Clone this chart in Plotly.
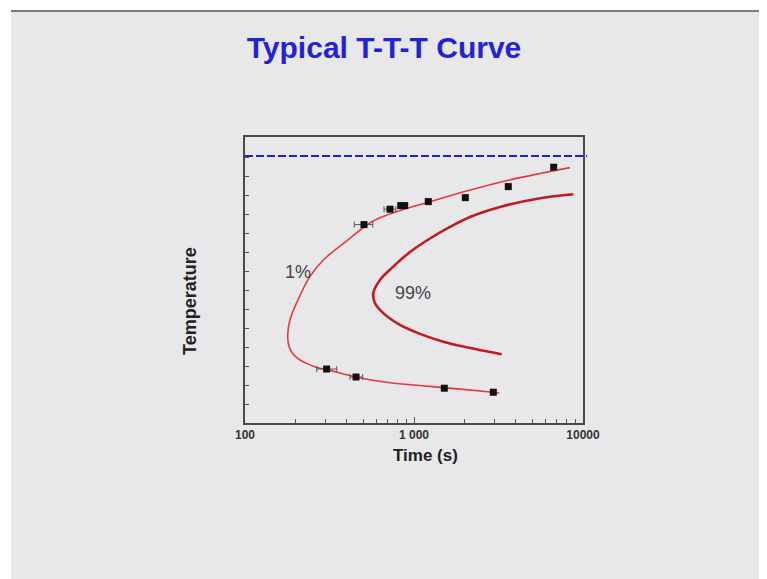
import math
import plotly.graph_objects as go

# ---- data ----
curve1_x = [3197, 2946, 1491, 1085, 721, 458, 304, 266, 230, 205, 190, 182, 179, 181, 186, 202, 242, 291, 400, 542, 658, 865, 1215, 2050, 3614, 5566, 8375]
curve1_y = [0.63, 0.67, 0.91, 1.02, 1.17, 1.46, 1.86, 1.97, 2.20, 2.45, 2.75, 3.10, 3.53, 4.11, 4.58, 5.37, 6.75, 7.63, 8.63, 9.55, 9.92, 10.29, 10.67, 11.26, 11.82, 12.18, 12.49]

curve99_x = [3304, 2050, 1491, 1085, 826, 658, 588, 574, 629, 754, 947, 1244, 1633, 2144, 3228, 5566, 8763]
curve99_y = [2.67, 3.04, 3.33, 3.74, 4.21, 4.83, 5.35, 5.88, 6.58, 7.28, 8.05, 8.76, 9.37, 9.89, 10.42, 10.88, 11.09]

pts_x = [6708, 3614, 2012, 1215, 834, 881, 721, 506, 304, 454, 1511, 2946]
pts_y = [12.51, 11.49, 10.91, 10.70, 10.49, 10.49, 10.30, 9.49, 1.89, 1.47, 0.88, 0.67]
err_plus = [0, 0, 0, 0, 0, 0, 59, 64, 45, 43, 0, 0]
err_minus = [0, 0, 0, 0, 0, 0, 56, 63, 38, 36, 0, 0]

melt_temp = 13.1
x_major = [100, 1000, 10000]
x_major_text = ["100", "1 000", "10000"]
x_minor = [200, 300, 400, 500, 600, 700, 800, 900, 2000, 3000, 4000, 5000, 6000, 7000, 8000, 9000]
y_ticks = list(range(0, 14))

label1 = ("1%", 207, 7.02)
label99 = ("99%", 991, 5.91)

# ---- figure geometry (page pixels; the page body adds an 8px offset) ----
OFF = 8
PAGE_W, PAGE_H = 767, 579
W, H = PAGE_W - OFF, PAGE_H - OFF
PLOT_L, PLOT_R, PLOT_T, PLOT_B = 245, 583, 137, 423  # page px
ML, MT = PLOT_L - OFF, PLOT_T - OFF
MR, MB = W - (PLOT_R - OFF), H - (PLOT_B - OFF)
PW, PH = W - ML - MR, H - MT - MB
BG = "#e8e8ea"
FONT = "Liberation Sans, Arial"


def px_to_paper_x(px):
    return (px - OFF - ML) / PW


def px_to_paper_y(py):
    return (MT + PH - (py - OFF)) / PH


fig = go.Figure()

fig.add_trace(go.Scatter(x=curve1_x, y=curve1_y, mode="lines",
                         line=dict(color="#e8383e", width=1.6, shape="spline", smoothing=1.0),
                         hoverinfo="skip"))
fig.add_trace(go.Scatter(x=curve99_x, y=curve99_y, mode="lines",
                         line=dict(color="#c41a1f", width=2.6, shape="spline", smoothing=1.0),
                         hoverinfo="skip"))
fig.add_trace(go.Scatter(x=pts_x, y=pts_y, mode="markers",
                         marker=dict(symbol="square", size=7, color="#111111"),
                         error_x=dict(type="data", array=err_plus, arrayminus=err_minus,
                                      color="#555555", thickness=1, width=3, symmetric=False)))

# page background panel and top rule
fig.add_shape(type="rect", xref="paper", yref="paper",
              x0=px_to_paper_x(11), x1=px_to_paper_x(PAGE_W + 4),
              y0=px_to_paper_y(PAGE_H + 4), y1=px_to_paper_y(11),
              fillcolor=BG, line=dict(width=0), layer="below")
fig.add_shape(type="line", xref="paper", yref="paper",
              x0=px_to_paper_x(11), x1=px_to_paper_x(PAGE_W + 4),
              y0=px_to_paper_y(11), y1=px_to_paper_y(11),
              line=dict(color="#555555", width=1.5))

# dashed reference line
fig.add_shape(type="line", xref="paper", yref="y", x0=0, x1=1.012,
              y0=melt_temp, y1=melt_temp,
              line=dict(color="#2222cc", width=2, dash="8px,3px"))

for txt, xv, yv in (label1, label99):
    fig.add_annotation(x=math.log10(xv), y=yv, text=txt, showarrow=False,
                       xanchor="center", yanchor="middle",
                       font=dict(family=FONT, size=18, color="#444444"))

fig.add_annotation(xref="paper", yref="paper", x=px_to_paper_x(425), y=px_to_paper_y(455),
                   xanchor="center", yanchor="middle",
                   text="<b>Time (s)</b>", showarrow=False,
                   font=dict(family=FONT, size=17, color="#222222"))
fig.add_annotation(xref="paper", yref="paper", x=px_to_paper_x(190), y=px_to_paper_y(301),
                   xanchor="center", yanchor="middle",
                   text="<b>Temperature</b>", showarrow=False, textangle=-90,
                   font=dict(family=FONT, size=18, color="#222222"))

fig.update_layout(
    width=W, height=H,
    margin=dict(l=ML, r=MR, t=MT, b=MB, pad=0),
    paper_bgcolor="white", plot_bgcolor=BG,
    showlegend=False,
    title=dict(text="<b>Typical T-T-T Curve</b>", x=(384 - OFF) / W, xref="container", xanchor="center",
               y=1 - (47 - OFF) / H, yref="container", yanchor="middle",
               font=dict(family=FONT, size=30, color="#2222dd")),
    font=dict(family=FONT),
)

fig.update_xaxes(type="log", range=[2, 4], tickmode="array", tickvals=x_major, ticktext=x_major_text,
                 ticks="inside", ticklen=6, tickcolor="#555555", tickwidth=1,
                 showline=True, linecolor="#4a4a4a", linewidth=1.5, mirror=True,
                 showgrid=False, zeroline=False,
                 tickfont=dict(size=12, color="#333333", family=FONT, weight="bold"),
                 minor=dict(tickmode="array", tickvals=x_minor, ticks="inside", ticklen=4,
                            tickcolor="#555555", showgrid=False))
fig.update_yaxes(range=[-0.95, 14.1], tickmode="array", tickvals=y_ticks,
                 ticks="inside", ticklen=4, tickcolor="#555555", showticklabels=False,
                 showline=True, linecolor="#4a4a4a", linewidth=1.5, mirror=True,
                 showgrid=False, zeroline=False)

fig.write_html("out.html")
